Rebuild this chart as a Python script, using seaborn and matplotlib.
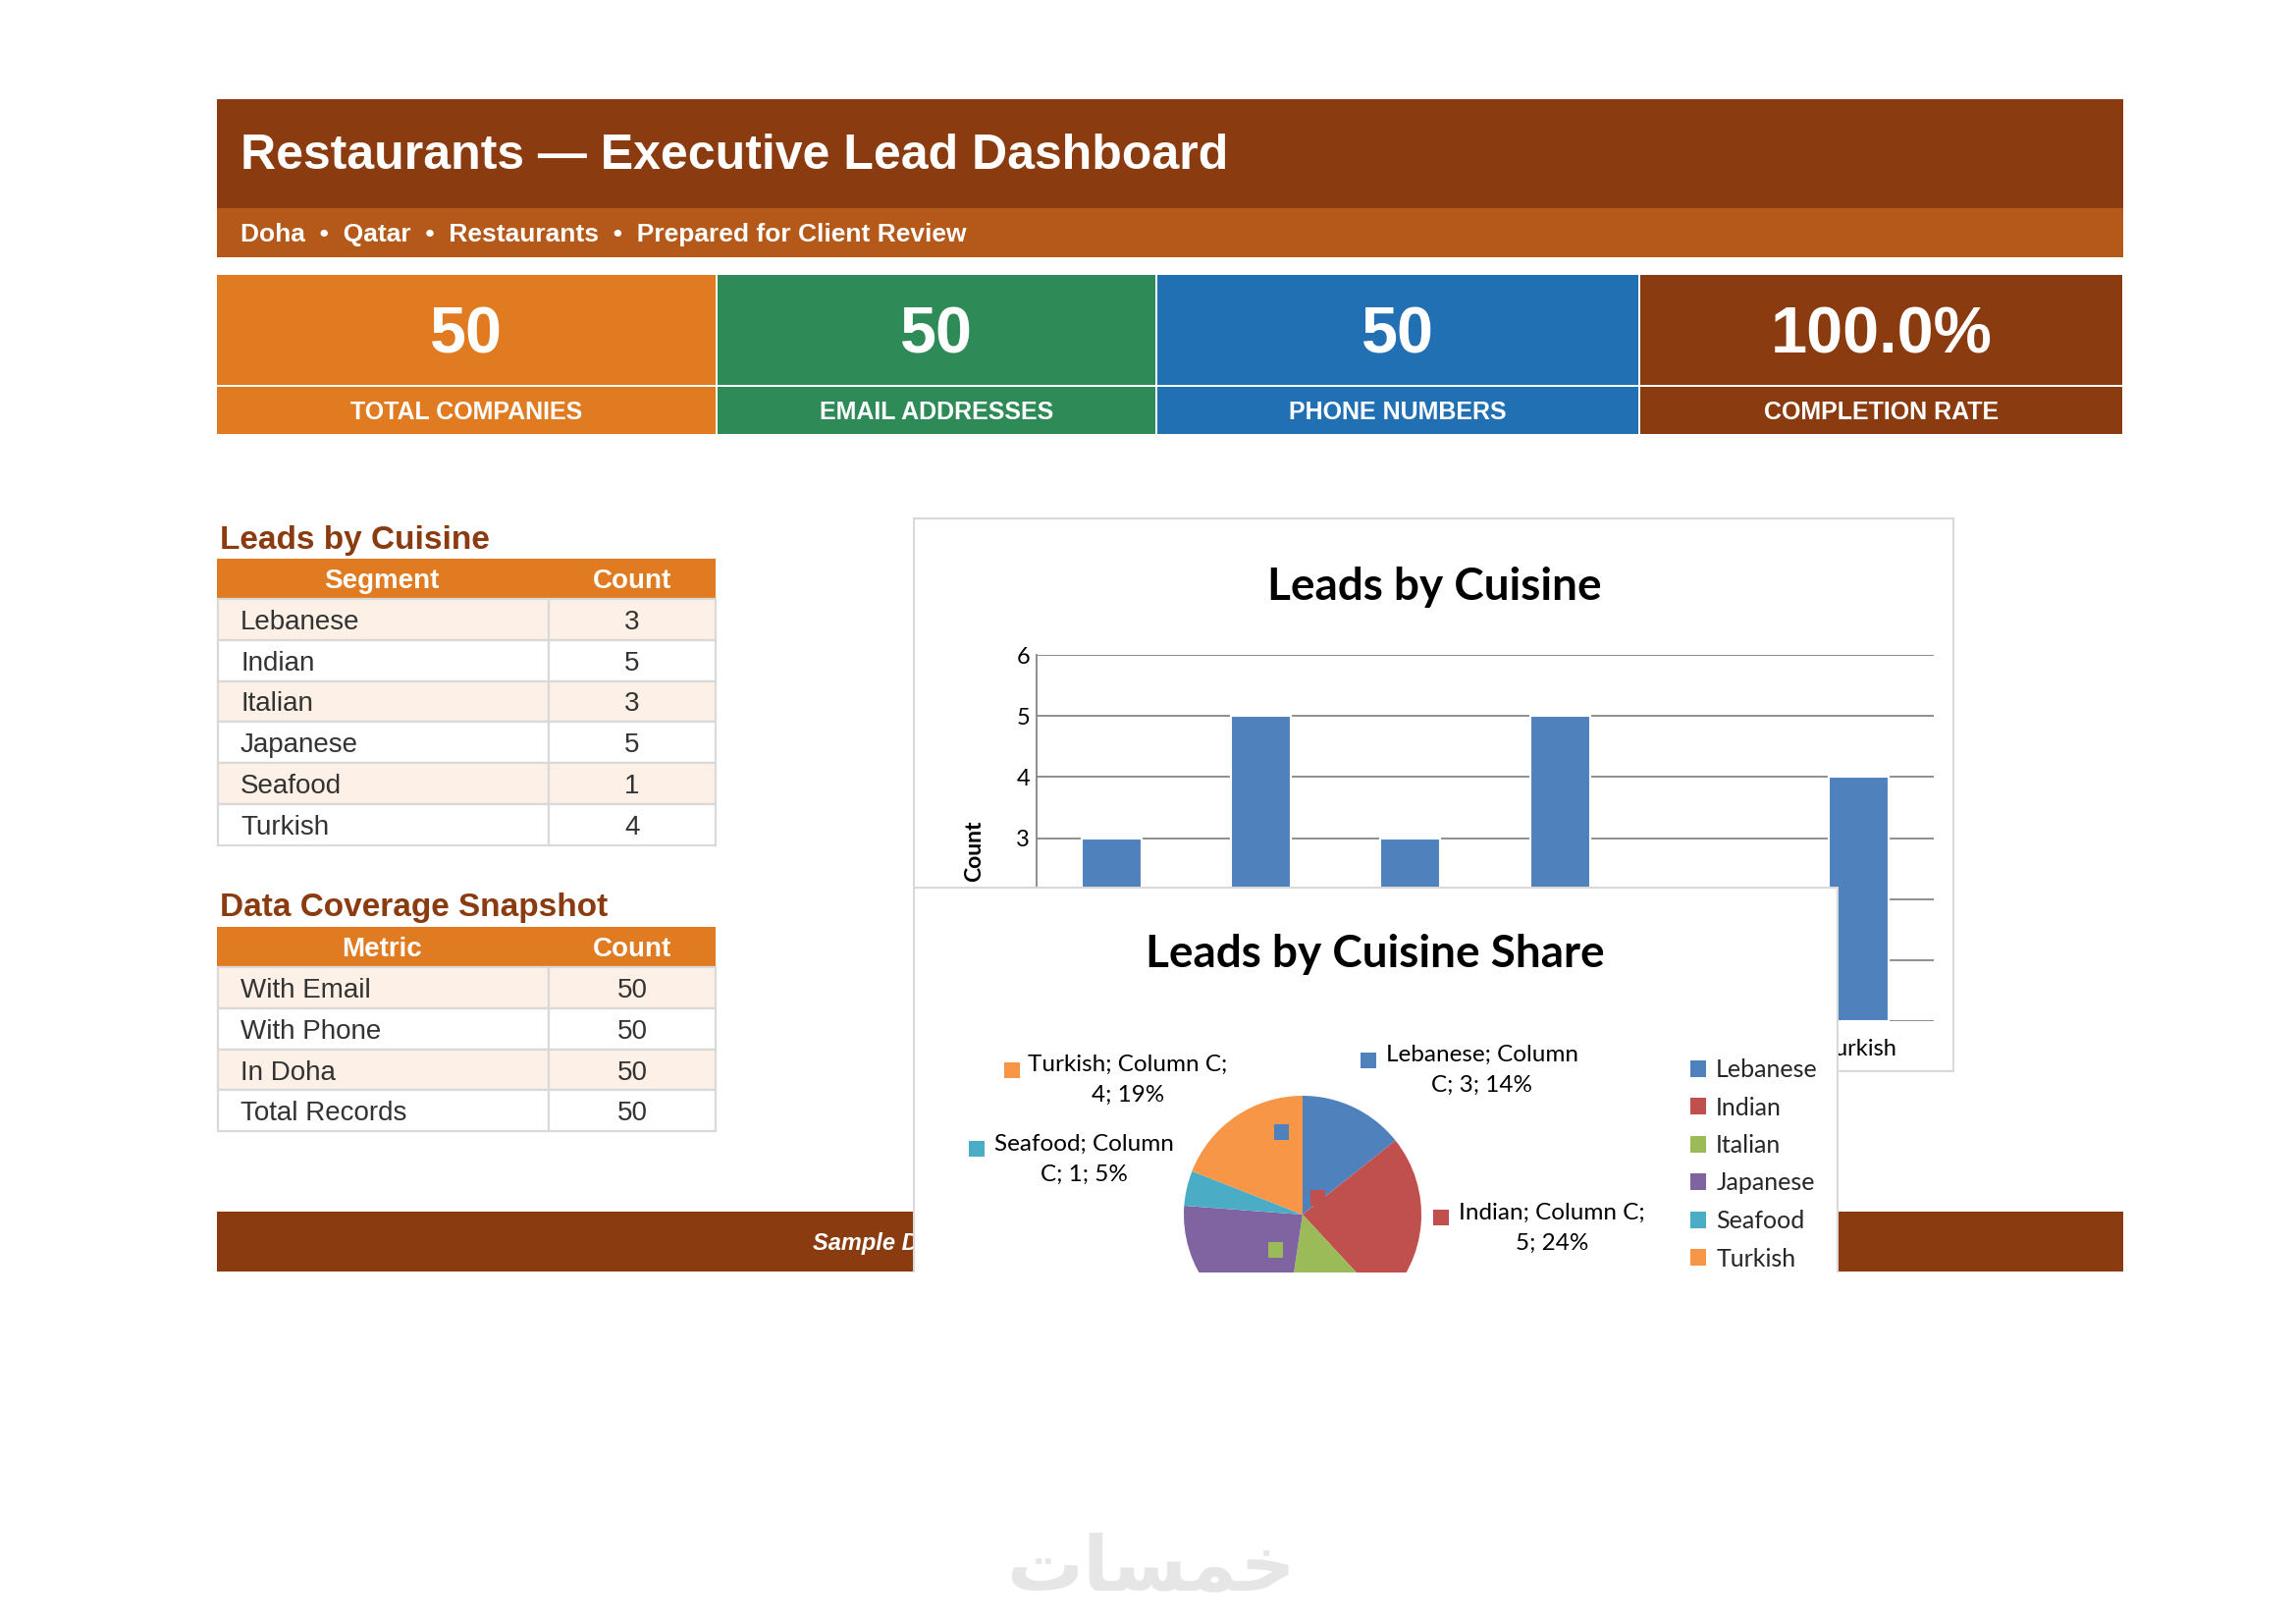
import matplotlib
matplotlib.use('Agg')
import matplotlib.pyplot as plt
from matplotlib.patches import Rectangle
import pandas as pd
import seaborn as sns

# ---- data -------------------------------------------------------------
cuisines = ['Lebanese', 'Indian', 'Italian', 'Japanese', 'Seafood', 'Turkish']
cuisine_counts = [3, 5, 3, 5, 1, 4]

kpi_values = ['50', '50', '50', '100.0%']
kpi_labels = ['TOTAL COMPANIES', 'EMAIL ADDRESSES', 'PHONE NUMBERS', 'COMPLETION RATE']

coverage_metrics = ['With Email', 'With Phone', 'In Doha', 'Total Records']
coverage_counts = [50, 50, 50, 50]

title = 'Restaurants \u2014 Executive Lead Dashboard'
subtitle = 'Doha  \u2022  Qatar  \u2022  Restaurants  \u2022  Prepared for Client Review'
footer = 'Sample Data \u2014 Prepared for Client Review'
watermark = '\uFE95\uFE8E\uFEB4\uFEE4\uFEA7'   # khamsat, presentation forms in visual order

# ---- style ------------------------------------------------------------
BROWN = '#8B3B10'
RUST = '#B5591A'
ORANGE = '#E07B22'
KPI_COLORS = [ORANGE, '#2E8B57', '#2270B4', BROWN]
PEACH = '#FDF0E6'
LINE = '#D9D9D9'
TXT = '#333333'
PIE_COLORS = ['#4F81BD', '#C0504D', '#9BBB59', '#8064A2', '#4BACC6', '#F79646']
CHART_FONT = ['Lato', 'DejaVu Sans']

sns.set_theme(style='white')
plt.rcParams['font.family'] = ['Liberation Sans', 'DejaVu Sans']

W, H = 2339, 1654
fig = plt.figure(figsize=(W / 100, H / 100), dpi=100)
fig.patch.set_facecolor('white')


def px_axes(x0, y0, x1, y1, z):
    # axes whose data coordinates are page pixels (y down)
    ax = fig.add_axes([x0 / W, 1 - y1 / H, (x1 - x0) / W, (y1 - y0) / H], zorder=z)
    ax.set_xlim(x0, x1)
    ax.set_ylim(y1, y0)
    ax.axis('off')
    return ax


def box(ax, x0, y0, x1, y1, **kw):
    ax.add_patch(Rectangle((x0, y0), x1 - x0, y1 - y0, **kw))


sheet = px_axes(0, 0, W, H, 0)

# header bands
box(sheet, 221, 101, 2163, 212, color=BROWN, lw=0)
sheet.text(245, 159, title, color='white', fontsize=36, fontweight='bold', va='center')
box(sheet, 221, 212, 2163, 262, color=RUST, lw=0)
sheet.text(245, 239, subtitle, color='white', fontsize=19, fontweight='bold', va='center')

# KPI tiles
edges = [221, 730, 1178, 1670, 2163]
for i in range(4):
    x0 = edges[i] + (1 if i else 0)
    x1 = edges[i + 1] - 1
    box(sheet, x0, 280, x1, 392, color=KPI_COLORS[i], lw=0)
    box(sheet, x0, 394, x1, 442, color=KPI_COLORS[i], lw=0)
    cx = (x0 + x1) / 2
    sheet.text(cx, 342, kpi_values[i], color='white', fontsize=48, fontweight='bold',
               ha='center', va='center')
    sheet.text(cx, 420, kpi_labels[i], color='white', fontsize=18, fontweight='bold',
               ha='center', va='center')

ROW_H = 41.8


def draw_table(top, heading, col_names, names, values):
    sheet.text(224, top - 19, heading, color=BROWN, fontsize=24, fontweight='bold', va='center')
    box(sheet, 221, top, 729, top + 41, color=ORANGE, lw=0)
    sheet.text(389, top + 23, col_names[0], color='white', fontsize=20, fontweight='bold',
               ha='center', va='center')
    sheet.text(644, top + 23, col_names[1], color='white', fontsize=20, fontweight='bold',
               ha='center', va='center')
    y = top + 41
    for i, (n, v) in enumerate(zip(names, values)):
        fill = PEACH if i % 2 == 0 else 'white'
        box(sheet, 222, y, 559, y + ROW_H, facecolor=fill, edgecolor=LINE, lw=1.6)
        box(sheet, 559, y, 729, y + ROW_H, facecolor=fill, edgecolor=LINE, lw=1.6)
        sheet.text(245, y + ROW_H / 2 + 3, n, color=TXT, fontsize=20, va='center')
        sheet.text(644, y + ROW_H / 2 + 3, str(v), color=TXT, fontsize=20, ha='center', va='center')
        y += ROW_H


draw_table(569, 'Leads by Cuisine', ['Segment', 'Count'], cuisines, cuisine_counts)
draw_table(944, 'Data Coverage Snapshot', ['Metric', 'Count'], coverage_metrics, coverage_counts)

# footer band
box(sheet, 221, 1234, 2163, 1295, color=BROWN, lw=0)
sheet.text(828, 1267, footer, color='white', fontsize=17, fontweight='bold',
           fontstyle='italic', va='center')

# watermark
sheet.text(1172, 1597, watermark, color='#E6E6E6', fontsize=56, fontweight='bold',
           ha='center', va='center', family=['DejaVu Sans'])

# ---- bar chart -------------------------------------------------------
bar_panel = px_axes(930, 527, 1991, 1092, 1)
box(bar_panel, 931, 528, 1990, 1091, facecolor='white', edgecolor=LINE, lw=1.6)
bar_panel.text(1461, 598, 'Leads by Cuisine', fontsize=33, fontweight='bold',
               ha='center', va='center', family=CHART_FONT, color='black')

df = pd.DataFrame({'Cuisine': cuisines, 'Count': cuisine_counts})
ax = fig.add_axes([1056 / W, 1 - 1040 / H, 914 / W, 373 / H], zorder=2)
sns.barplot(data=df, x='Cuisine', y='Count', color=PIE_COLORS[0], saturation=1,
            width=0.4, edgecolor='white', linewidth=1.5, ax=ax)
ax.set_facecolor('none')
ax.set_ylim(0, 6)
ax.set_yticks(range(7))
ax.set_axisbelow(True)
ax.yaxis.grid(True, color='#868686', linewidth=1.3)
ax.xaxis.grid(False)
for s in ['top', 'right', 'bottom']:
    ax.spines[s].set_visible(False)
ax.spines['left'].set_color('#868686')
ax.spines['left'].set_linewidth(1.3)
ax.tick_params(axis='y', length=0, pad=5, labelsize=17)
ax.tick_params(axis='x', length=0, pad=13, labelsize=17)
for lab in ax.get_xticklabels() + ax.get_yticklabels():
    lab.set_family(CHART_FONT)
    lab.set_color('black')
ax.set_xlabel('')
ax.set_ylabel('Count', fontsize=16.5, fontweight='bold', family=CHART_FONT, color='black')
ax.yaxis.set_label_coords(-0.058, 0.465)

# ---- pie chart -------------------------------------------------------
pie_panel = px_axes(930, 903, 1873, 1296, 3)
box(pie_panel, 930, 903, 1873, 1300, facecolor='white', lw=0)
pie_panel.plot([931, 931, 1872, 1872], [1300, 904, 904, 1300], color=LINE, lw=1.6)
pie_panel.text(1401, 972, 'Leads by Cuisine Share', fontsize=33, fontweight='bold',
               ha='center', va='center', family=CHART_FONT, color='black')

R = 121
pie_ax = fig.add_axes([1206 / W, 1 - 1296 / H, 2 * R / W, 180 / H], zorder=4)
wedges, _ = pie_ax.pie(cuisine_counts, colors=PIE_COLORS, startangle=90, counterclock=False,
                       wedgeprops=dict(linewidth=0))
pie_ax.set_aspect('auto')
pie_ax.set_xlim(-1, 1)
pie_ax.set_ylim(1 - 180 / R, 1)
pie_ax.axis('off')
for w in wedges:
    w.set_clip_on(True)
    w.set_clip_path(pie_ax.patch)

over = px_axes(930, 903, 1873, 1296, 5)
total = sum(cuisine_counts)
# label placement: (cuisine index, key x, key y, text center x, first line y, break after "Column C;")
label_layout = [
    (5, 1023, 1082, 1149, 1084, True),
    (0, 1386, 1072, 1510, 1074, False),
    (4, 987, 1162, 1104, 1165, False),
    (1, 1460, 1232, 1581, 1235, True),
]
for idx, kx, ky, tx, ty, late_break in label_layout:
    name = cuisines[idx]
    v = cuisine_counts[idx]
    pct = round(v / total * 100)
    if late_break:
        s = f'{name}; Column C;\n{v}; {pct}%'
    else:
        s = f'{name}; Column\nC; {v}; {pct}%'
    box(over, kx, ky, kx + 16, ky + 16, color=PIE_COLORS[idx], lw=0)
    over.text(tx, ty + 16, s, fontsize=17.5, family=CHART_FONT, ha='center', va='center',
              linespacing=1.6, color='black')
# stray label keys drawn inside the pie
for idx, kx, ky in [(0, 1298, 1145), (1, 1335, 1212), (2, 1292, 1265)]:
    box(over, kx, ky, kx + 15, ky + 16, color=PIE_COLORS[idx], lw=0)

leg = over.legend(wedges, cuisines, loc='upper left', bbox_to_anchor=(1722, 1078),
                  bbox_transform=over.transData, frameon=False, borderpad=0,
                  borderaxespad=0, handlelength=0.65, handleheight=0.65,
                  handletextpad=0.4, labelspacing=0.62,
                  prop={'family': CHART_FONT, 'size': 18})

fig.savefig('out.png', dpi=100, facecolor='white')
